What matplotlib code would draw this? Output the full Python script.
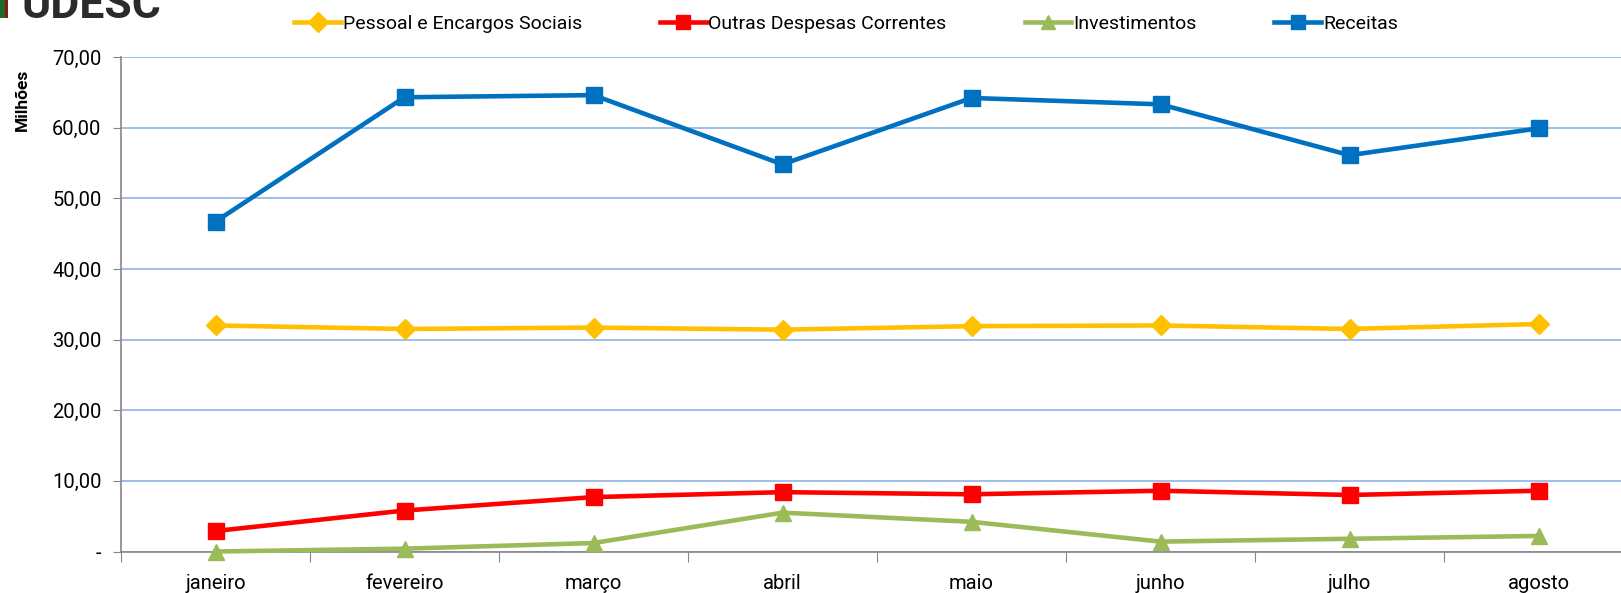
import matplotlib
matplotlib.use("Agg")
import matplotlib.pyplot as plt
from matplotlib.patches import Rectangle
from matplotlib.ticker import FixedLocator, FuncFormatter

meses = ["janeiro", "fevereiro", "março", "abril", "maio", "junho", "julho", "agosto"]
pessoal = [32.0, 31.5, 31.7, 31.4, 31.9, 32.0, 31.5, 32.2]
outras = [2.9, 5.8, 7.7, 8.4, 8.1, 8.6, 8.0, 8.6]
investimentos = [0.0, 0.4, 1.2, 5.5, 4.2, 1.4, 1.8, 2.2]
receitas = [46.7, 64.3, 64.6, 54.8, 64.2, 63.3, 56.1, 59.9]
yticks = [0, 10, 20, 30, 40, 50, 60, 70]

FONT = ["Roboto", "DejaVu Sans"]

W, H = 1621, 593
fig = plt.figure(figsize=(W / 100, H / 100), dpi=100)
ax = fig.add_axes([121 / W, 1 - 551.5 / H, 1 - 121 / W, (551.5 - 57) / H])

x = list(range(len(meses)))
series = [
    ("Pessoal e Encargos Sociais", pessoal, "#FFC000", "D", 10),
    ("Outras Despesas Correntes", outras, "#FF0000", "s", 11),
    ("Investimentos", investimentos, "#9BBB59", "^", 11),
    ("Receitas", receitas, "#0070C0", "s", 11),
]
for name, vals, col, mk, ms in series:
    ax.plot(x, vals, color=col, lw=3.3, marker=mk, ms=ms, mfc=col, mec=col,
            label=name, zorder=3, clip_on=False)

step = 189.0
xmax = -0.5 + (W - 121) / step
ax.set_xlim(-0.5, xmax)
ax.set_ylim(0, 70)

ax.yaxis.set_major_locator(FixedLocator(yticks))
ax.yaxis.set_major_formatter(FuncFormatter(
    lambda v, p: "-" if v == 0 else f"{v:.2f}".replace(".", ",")))
ax.grid(axis="y", color="#8EB4E3", lw=1.2, zorder=1)
ax.set_axisbelow(True)

ax.xaxis.set_major_locator(FixedLocator([i + 0.5 for i in range(-1, len(meses))]))
ax.xaxis.set_major_formatter(FuncFormatter(lambda v, p: ""))
ax.xaxis.set_minor_locator(FixedLocator(x))
ax.set_xticklabels(meses, minor=True)
ax.tick_params(axis="x", which="minor", length=0, pad=16.5)
ax.tick_params(axis="x", which="major", length=7, color="#868686", direction="out")
ax.tick_params(axis="y", length=6, color="#868686", direction="out", pad=8)

for lab in ax.get_xticklabels(minor=True) + ax.get_yticklabels():
    lab.set_fontfamily(FONT)
    lab.set_fontsize(14.5)
    lab.set_color("black")

for s in ["top", "right"]:
    ax.spines[s].set_visible(False)
for s in ["left", "bottom"]:
    ax.spines[s].set_color("#868686")
    ax.spines[s].set_linewidth(1.2)

fig.text(22 / W, 1 - 100 / H, "Milhões", rotation=90, ha="center", va="center",
         fontsize=12.5, fontweight="bold", family=FONT)

leg = fig.legend(loc="center", bbox_to_anchor=(846 / W, 1 - 24 / H), ncol=4, frameon=False,
                 handlelength=2.4, handletextpad=0.1, columnspacing=4.0,
                 prop={"family": FONT, "size": 14})
for h in leg.legend_handles:
    h.set_markersize(10)

# partially visible logo at top-left
fig.add_artist(Rectangle((0, 1 - 18 / H), 5 / W, 18 / H, transform=fig.transFigure,
                         color="#1E6B2E", lw=0))
fig.add_artist(Rectangle((5 / W, 1 - 18 / H), 3 / W, 18 / H, transform=fig.transFigure,
                         color="#8B1A1A", lw=0))
fig.text(22 / W, 1 - 18 / H, "UDESC", ha="left", va="baseline", fontsize=32,
         fontweight="bold", color="#2B2B2B", family=FONT)

fig.savefig("out.png", dpi=100)
